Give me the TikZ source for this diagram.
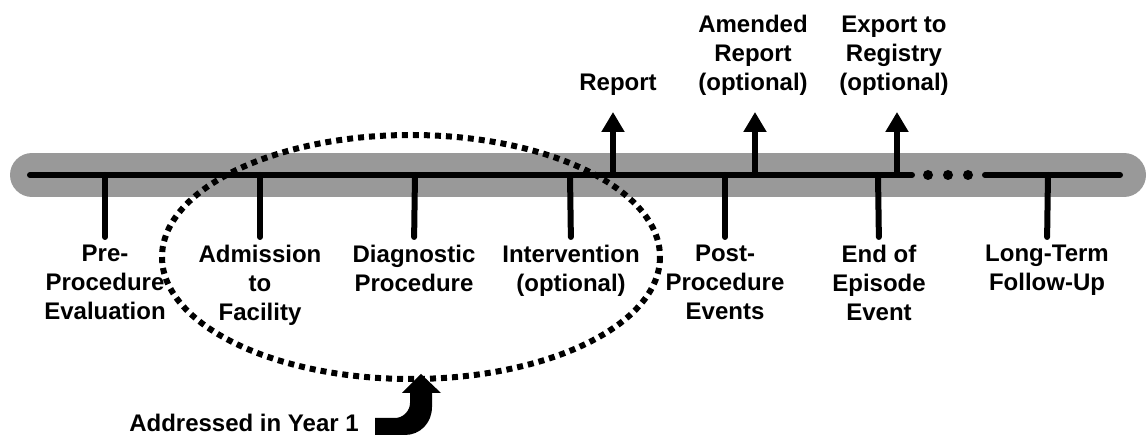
\documentclass[tikz,border=0pt]{standalone}
\usepackage{fontspec}
\setmainfont{Liberation Sans}
\usetikzlibrary{arrows.meta}
\definecolor{bandgray}{RGB}{153,153,153}
\begin{document}
\begin{tikzpicture}[x=0.5pt,y=-0.5pt,
  lbl/.style={font=\bfseries\fontsize{12pt}{14.5pt}\selectfont, align=center, inner sep=0pt},
  below lbl/.style={lbl, anchor=north},
  above lbl/.style={lbl, anchor=south},
  axisline/.style={line width=3pt, line cap=round},
  tickline/.style={line width=3pt, line cap=round, shorten >=4pt},
  outarrow/.style={line width=3pt, -{Triangle[width=11pt,length=10pt]}, shorten >=8pt},
  scopering/.style={line width=3pt, dash pattern=on 3pt off 2.5pt},
]
\useasboundingbox (0,0) rectangle (1148,437);

% grey band behind the time line
\draw[bandgray, line width=22pt, line cap=round] (32,175) -- (1124,175);

% time line, with a gap for the ellipsis
\coordinate (start) at (30,175);
\coordinate (gapL) at (912,175);
\coordinate (gapR) at (985,175);
\coordinate (end) at (1120,175);
\draw[axisline] (start) -- (gapL);
\draw[axisline] (gapR) -- (end);
\fill (928,175) circle [radius=5];
\fill (948,175) circle [radius=5];
\fill (968,175) circle [radius=5];

% events below the line
\coordinate (t1) at (105,175);
\coordinate (t2) at (260,175);
\coordinate (t3) at (415,175);
\coordinate (t4) at (570,175);
\coordinate (t5) at (725,175);
\coordinate (t6) at (878,175);
\coordinate (t7) at (1048,175);
\node[below lbl] (l1) at (105,245) {Pre-\\Procedure\\Evaluation};
\node[below lbl] (l2) at (260,245) {Admission\\to\\Facility};
\node[below lbl] (l3) at (414,245) {Diagnostic\\Procedure};
\node[below lbl] (l4) at (571,245) {Intervention\\(optional)};
\node[below lbl] (l5) at (725,245) {Post-\\Procedure\\Events};
\node[below lbl] (l6) at (879,245) {End of\\Episode\\Event};
\node[below lbl] (l7) at (1047,245) {Long-Term\\Follow-Up};
\foreach \i in {1,...,7} \draw[tickline] (t\i) -- (l\i.north);

% outputs above the line
\coordinate (a1) at (613,175);
\coordinate (a2) at (755,175);
\coordinate (a3) at (897,175);
\node[above lbl] (o1) at (618,96) {Report};
\node[above lbl] (o2) at (753,96) {Amended\\Report\\(optional)};
\node[above lbl] (o3) at (894,96) {Export to\\Registry\\(optional)};
\draw[outarrow] (a1) -- (a1 |- o1.south);
\draw[outarrow] (a2) -- (a2 |- o2.south);
\draw[outarrow] (a3) -- (a3 |- o3.south);

% first-year scope
\draw[scopering] (411,257) ellipse [x radius=249, y radius=122];

\node[lbl, anchor=base] (year) at (244,432) {Addressed in Year 1};

% bent block arrow pointing at the scope
\fill (375,418) -- (395,418)
  .. controls (403,418) and (410,411) .. (410,403)
  -- (410,393) -- (402,393) -- (421,374) -- (441,393) -- (432,393) -- (432,407)
  .. controls (432,423) and (420,435) .. (405,435)
  -- (375,435) -- cycle;
\end{tikzpicture}
\end{document}
